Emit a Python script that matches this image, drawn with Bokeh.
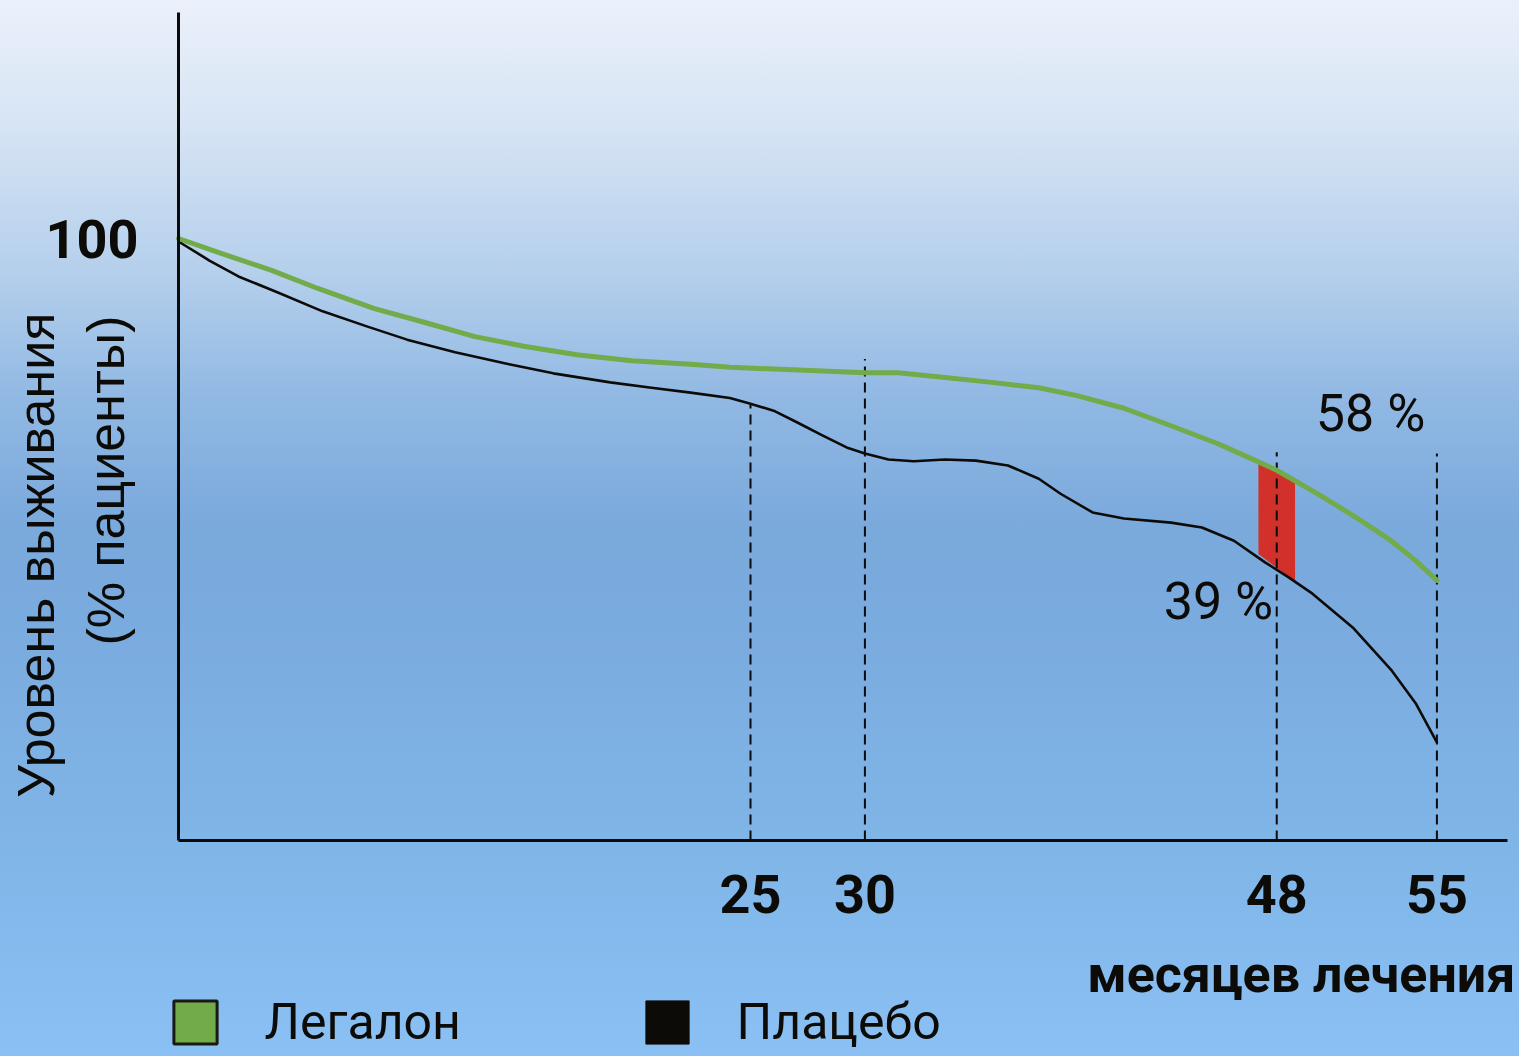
from math import pi
from bokeh.plotting import figure
from bokeh.models import (Label, Legend, LegendItem, FixedTicker, Range1d,
                          GlobalInlineStyleSheet)
from bokeh.embed import file_html
from bokeh.resources import INLINE

# ---------------- data ----------------
legalon_months = [0, 1.80, 4.07, 6.09, 8.53, 10.81, 12.95, 15.09, 17.41, 19.81,
                  22.38, 24.1, 30.0, 31.44, 33.5, 35.55, 37.6, 39.27, 41.32,
                  43.38, 45.43, 46.79, 48.0, 49.92, 51.47, 53.0, 54.07, 55.0]
legalon_survival = [100.0, 97.6, 94.7, 91.7, 88.4, 86.0, 83.7, 82.1, 80.7, 79.7,
                    79.1, 78.6, 77.7, 77.7, 76.9, 76.1, 75.2, 73.9, 71.8,
                    68.9, 65.9, 63.6, 61.5, 57.3, 53.65, 49.8, 46.5, 43.2]

placebo_months = [0, 1.37, 2.62, 4.37, 6.30, 8.23, 9.99, 12.09, 14.45, 16.38,
                  18.87, 20.67, 22.38, 24.1, 24.96, 26.01, 27.07, 28.14, 29.2,
                  30.0, 31.03, 32.14, 33.5, 34.85, 36.25, 37.6, 38.55, 39.95,
                  41.32, 43.38, 44.73, 46.13, 47.49, 48.52, 49.56, 51.32, 53.03,
                  54.07, 55.0]
placebo_survival = [99.5, 96.3, 93.7, 91.0, 87.9, 85.4, 83.2, 81.1, 79.1, 77.6,
                    76.1, 75.2, 74.4, 73.5, 72.6, 71.4, 69.4, 67.3, 65.3,
                    64.3, 63.3, 63.0, 63.3, 63.1, 62.3, 60.1, 57.6, 54.5,
                    53.5, 52.8, 52.0, 49.8, 46.2, 43.7, 41.0, 35.4, 28.2,
                    22.8, 16.3]

marked_months = [25, 30, 48, 55]
marked_top = [72.6, 80.0, 64.5, 64.3]
y_ticks = [100]

gap_months = [47.2, 48.8]
gap_low = [47.6, 43.0]
gap_high = [62.9, 59.6]

series_names = ["Легалон", "Плацебо"]
callouts = ["58 %", "39 %"]
x_title = "месяцев лечения"
y_title = ["Уровень выживания", "(% пациенты)"]

GREEN = "#72ab4a"
BLACK = "#0d0b08"
RED = "#d2302a"
DIN = "Roboto"
ARIAL = "Liberation Sans"

# ---------------- figure ----------------
W, H = 1519, 1056
p = figure(width=W, height=H, output_backend="svg", toolbar_location=None,
           x_range=Range1d(-7.780, 58.610), y_range=Range1d(-35.880, 139.535),
           min_border=0)
p.border_fill_color = None
p.background_fill_color = None
p.outline_line_color = None
p.grid.visible = False

p.stylesheets = [GlobalInlineStyleSheet(css="""
html { background: linear-gradient(to bottom, #ebf1fb 0%, #d6e4f4 12%, #b4cfec 26%,
        #90b8e3 38%, #7aa9dc 50%, #7bacdf 62%, #80b5e8 80%, #8ac0f3 100%); }
body { background: transparent; }
""")]

# red gap band
p.varea(x=gap_months, y1=gap_low, y2=gap_high, fill_color=RED, fill_alpha=1)

# dashed marker lines
p.segment(x0=marked_months, y0=[0] * len(marked_months), x1=marked_months,
          y1=marked_top, line_color=BLACK, line_width=2, line_dash="10 6")

# curves
p.line(placebo_months, placebo_survival, line_color=BLACK, line_width=2.6,
       line_join="round", line_cap="round")
p.line(legalon_months, legalon_survival, line_color=GREEN, line_width=5,
       line_join="round", line_cap="round")

# legend swatches (zero-size markers on the curves' first points)
sw_g = p.scatter(x=legalon_months[:1], y=legalon_survival[:1], marker="square",
                 size=0, fill_color=GREEN, line_color="#1a1a12", line_width=3)
sw_b = p.scatter(x=placebo_months[:1], y=placebo_survival[:1], marker="square",
                 size=0, fill_color=BLACK, line_color=BLACK, line_width=1)

# axes drawn at fixed data locations inside the frame
p.xaxis.fixed_location = 0
p.yaxis.fixed_location = 0
p.xaxis.bounds = (0, 58.09)
p.yaxis.bounds = (0, 137.5)
for ax in (p.xaxis[0], p.yaxis[0]):
    ax.axis_line_color = BLACK
    ax.axis_line_width = 3
    ax.major_tick_out = 0
    ax.major_tick_in = 0
    ax.minor_tick_out = 0
    ax.minor_tick_in = 0
    ax.major_label_text_font = DIN
    ax.major_label_text_font_style = "bold"
    ax.major_label_text_font_size = "54px"
    ax.major_label_text_color = BLACK

p.xaxis.ticker = FixedTicker(ticks=marked_months)
p.yaxis.ticker = FixedTicker(ticks=y_ticks)
p.xaxis.major_label_standoff = 34
p.yaxis.major_label_standoff = 40

# axis titles
p.add_layout(Label(x=-6.21, y=87.7, text=y_title[0], angle=pi / 2,
                   text_align="right", text_baseline="alphabetic",
                   text_font=ARIAL, text_font_size="52px", text_color=BLACK))
p.add_layout(Label(x=-3.19, y=87.2, text=y_title[1], angle=pi / 2,
                   text_align="right", text_baseline="alphabetic",
                   text_font=ARIAL, text_font_size="52px", text_color=BLACK))
p.add_layout(Label(x=58.43, y=-22.2, text=x_title, text_align="right",
                   text_baseline="alphabetic", text_font=DIN,
                   text_font_size="52px", text_font_style="bold",
                   text_color=BLACK))

# callouts
p.add_layout(Label(x=52.1, y=71.0, text=callouts[0], text_align="center",
                   text_baseline="alphabetic", text_font=DIN,
                   text_font_size="52px", text_color=BLACK))
p.add_layout(Label(x=45.45, y=39.7, text=callouts[1], text_align="center",
                   text_baseline="alphabetic", text_font=DIN,
                   text_font_size="52px", text_color=BLACK))

# legend
legend = Legend(items=[LegendItem(label=series_names[0], renderers=[sw_g]),
                       LegendItem(label=series_names[1], renderers=[sw_b])],
                location=(140.6, -20), orientation="horizontal",
                glyph_width=108, glyph_height=108, label_standoff=16,
                label_width=348, spacing=0, padding=0, margin=0,
                border_line_alpha=0, background_fill_alpha=0,
                label_text_font=DIN, label_text_font_size="50px",
                label_text_color=BLACK)
p.add_layout(legend, "center")

open("out.html", "w").write(file_html(p, INLINE))
